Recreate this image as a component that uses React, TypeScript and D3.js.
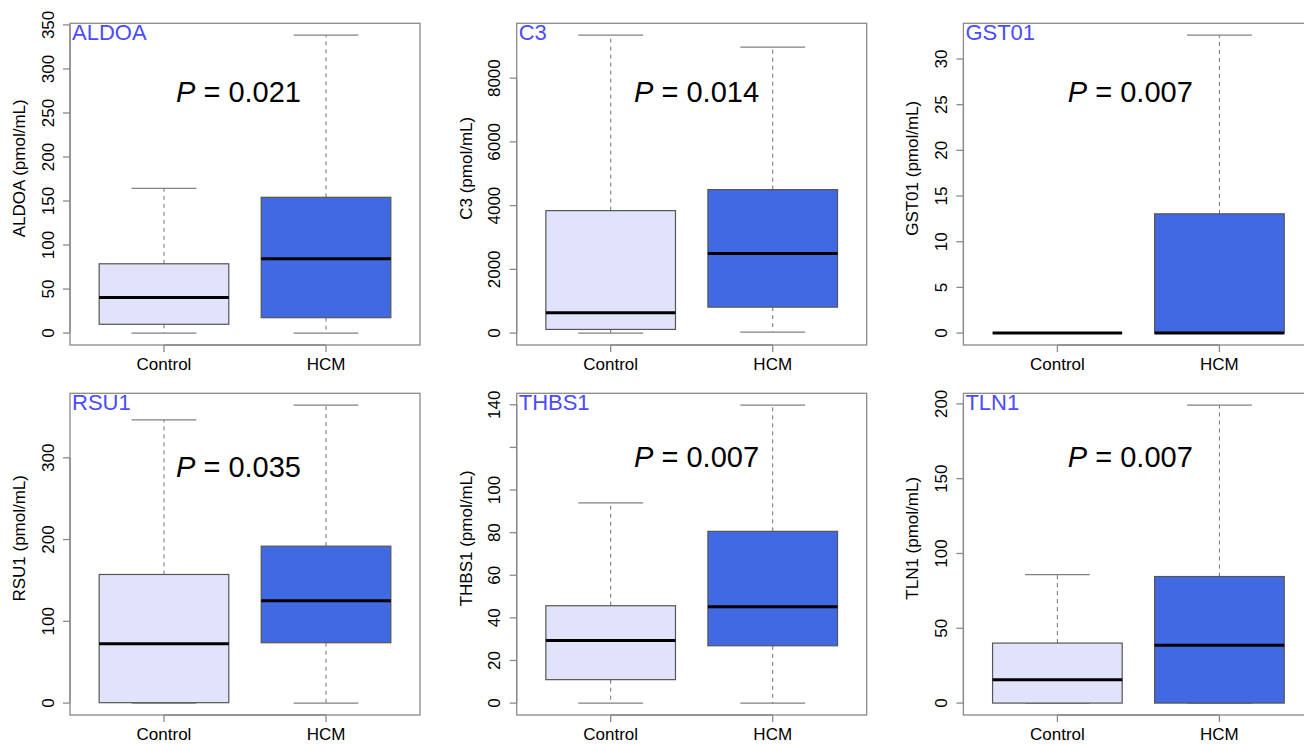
import React from "react";
import * as d3 from "d3";

const markers = ["ALDOA", "C3", "GST01", "RSU1", "THBS1", "TLN1"];
const groups = ["Control", "HCM"];

// [min, q1, median, q3, max]
const controlStats = [
  [0, 10, 40.5, 78.7, 164.4],
  [0, 115, 638, 3843, 9347],
  [0, 0, 0, 0, 0],
  [0, 0.5, 72.6, 157.3, 346.4],
  [0, 11, 29.4, 45.7, 94],
  [0, 0, 15.6, 40.1, 85.8],
];
const hcmStats = [
  [0, 17.5, 84.3, 154.2, 338.3],
  [31, 814, 2497, 4502, 8972],
  [0, 0, 0, 13.05, 32.6],
  [0, 73.8, 125.2, 191.9, 364.3],
  [0, 26.9, 45.2, 80.6, 139.8],
  [0, 0, 38.7, 84.6, 199.1],
];

const pValues = ["0.021", "0.014", "0.007", "0.035", "0.007", "0.007"];
// where the P label sits, in data units (x in group units, y at baseline)
const pAtX = [1.46, 1.53, 1.45, 1.46, 1.53, 1.45];
const pAtY = [262, 7260, 25.3, 277, 111, 158];

const yTicks = [
  [0, 50, 100, 150, 200, 250, 300, 350],
  [0, 2000, 4000, 6000, 8000],
  [0, 5, 10, 15, 20, 25, 30],
  [0, 100, 200, 300],
  [0, 20, 40, 60, 80, 100, 120, 140],
  [0, 50, 100, 150, 200],
];
const yTickLabels = [
  ["0", "50", "100", "150", "200", "250", "300", "350"],
  ["0", "2000", "4000", "6000", "8000"],
  ["0", "5", "10", "15", "20", "25", "30"],
  ["0", "100", "200", "300"],
  ["0", "20", "40", "60", "80", "100", "", "140"],
  ["0", "50", "100", "150", "200"],
];

const fills = ["#E1E3FB", "#4169E1"];
const font = "'Liberation Sans', Arial, Helvetica, sans-serif";

const W = 1304;
const H = 744;
const plotW = 350;
const plotH = 321.7;
const colStep = 446.7;
const rowStep = 370;
const left0 = 70;
const top0 = 23.3;

const Panel = ({ i }: { i: number }) => {
  const col = i % 3;
  const row = Math.floor(i / 3);
  const left = left0 + col * colStep;
  const top = top0 + row * rowStep;
  const stats = [controlStats[i], hcmStats[i]];

  // R style 4% padding around the data range
  const lo = d3.min(stats, (s) => s[0]) as number;
  const hi = d3.max(stats, (s) => s[4]) as number;
  const pad = (hi - lo) * 0.04;
  const y = d3.scaleLinear().domain([lo - pad, hi + pad]).range([plotH, 0]);
  const x = d3.scaleLinear().domain([0.42, 2.58]).range([0, plotW]);
  const half = x(1.4) - x(1);
  const cap = x(1.2) - x(1);

  return (
    <g transform={`translate(${left},${top})`}>
      <rect x={0} y={0} width={plotW} height={plotH} fill="none" stroke="#8a8a8a" strokeWidth={1.3} />
      {stats.map((s, g) => {
        const cx = x(g + 1);
        return (
          <g key={g}>
            <line x1={cx} x2={cx} y1={y(s[3])} y2={y(s[4])} stroke="#707070" strokeWidth={1} strokeDasharray="4,4" />
            <line x1={cx} x2={cx} y1={y(s[1])} y2={y(s[0])} stroke="#707070" strokeWidth={1} strokeDasharray="4,4" />
            <line x1={cx - cap} x2={cx + cap} y1={y(s[4])} y2={y(s[4])} stroke="#808080" strokeWidth={1.3} />
            <line x1={cx - cap} x2={cx + cap} y1={y(s[0])} y2={y(s[0])} stroke="#808080" strokeWidth={1.3} />
            {s[3] > s[1] && (
              <rect
                x={cx - half}
                y={y(s[3])}
                width={half * 2}
                height={y(s[1]) - y(s[3])}
                fill={fills[g]}
                stroke="#555"
                strokeWidth={1.2}
              />
            )}
            <line x1={cx - half} x2={cx + half} y1={y(s[2])} y2={y(s[2])} stroke="#000" strokeWidth={3} />
          </g>
        );
      })}

      {/* y axis */}
      <line
        x1={0}
        x2={0}
        y1={y(yTicks[i][0])}
        y2={y(yTicks[i][yTicks[i].length - 1])}
        stroke="#8a8a8a"
        strokeWidth={1.3}
      />
      {yTicks[i].map((t, k) => (
        <g key={t} transform={`translate(0,${y(t)})`}>
          <line x1={0} x2={-7} stroke="#8a8a8a" strokeWidth={1.3} />
          <text
            transform="translate(-16.5,0) rotate(-90)"
            textAnchor="middle"
            fontSize={17}
            fontFamily={font}
            fill="#000"
          >
            {yTickLabels[i][k]}
          </text>
        </g>
      ))}
      <text
        transform={`translate(-45,145) rotate(-90)`}
        textAnchor="middle"
        fontSize={17}
        fontFamily={font}
      >
        {`${markers[i]} (pmol/mL)`}
      </text>

      {/* x axis */}
      <line x1={x(1)} x2={x(2)} y1={plotH} y2={plotH} stroke="#8a8a8a" strokeWidth={1.3} />
      {groups.map((gName, g) => (
        <g key={gName} transform={`translate(${x(g + 1)},${plotH})`}>
          <line y1={0} y2={7} stroke="#8a8a8a" strokeWidth={1.3} />
          <text y={25} textAnchor="middle" fontSize={17} fontFamily={font}>
            {gName}
          </text>
        </g>
      ))}

      <text x={2} y={17} fontSize={22} fontFamily={font} fill="#4B4BFF">
        {markers[i]}
      </text>
      <text x={x(pAtX[i])} y={y(pAtY[i])} textAnchor="middle" fontSize={29} fontFamily={font}>
        <tspan fontStyle="italic">P</tspan>
        {` = ${pValues[i]}`}
      </text>
    </g>
  );
};

export default function App() {
  return (
    <svg
      width={W}
      height={H}
      style={{ position: "absolute", left: 0, top: 0, background: "#fff" }}
    >
      <rect width={W} height={H} fill="#fff" />
      {markers.map((m, i) => (
        <Panel key={m} i={i} />
      ))}
    </svg>
  );
}
